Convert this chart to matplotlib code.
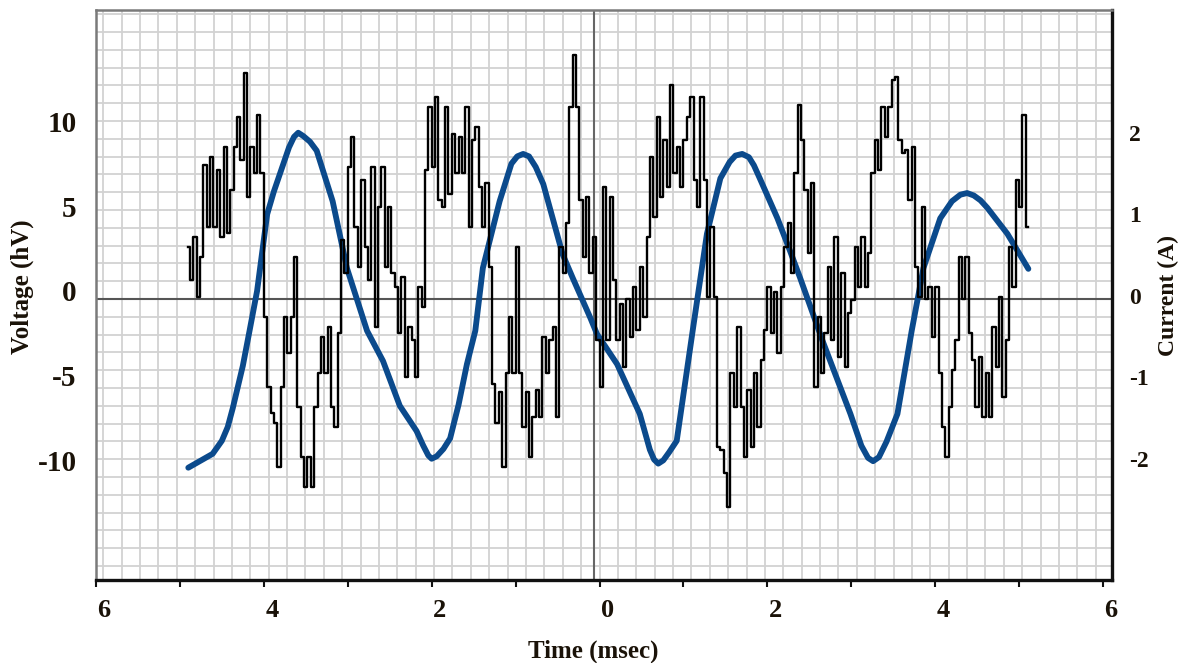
import matplotlib.pyplot as plt
import matplotlib.transforms as mtransforms
import numpy as np

# Voltage trace (hV), one sample every 0.04 ms starting at -4.90 ms
v_t0 = -4.90
v_dt = 0.04
voltage = [
    3.08, 1.12, 3.67, 0.14, 2.49, 7.88, 4.25, 8.37, 4.25, 7.6,
    3.67, 8.96, 3.86, 6.41, 8.96, 10.7, 8.2, 13.27, 6.02, 8.96,
    7.39, 10.82, 7.39, -1.04, -5.16, -6.7, -7.31, -9.86, -5.16, -1.04,
    -3.2, -1.04, 2.49, -6.33, -9.27, -11.04, -9.27, -11.04, -6.33, -4.37,
    -2.22, -4.37, -1.63, -6.33, -7.51, -2.0, 3.47, 1.51, 7.78, 9.55,
    4.25, 1.9, 7.0, 3.08, 1.12, 7.78, -1.63, 5.43, 7.78, 1.9,
    5.43, 1.51, 0.73, -2.0, 1.3, -4.57, -1.63, -2.41, -4.57, 0.73,
    -0.45, 7.6, 11.31, 7.78, 11.9, 5.8, 5.43, 11.31, 6.2, 9.7,
    7.39, 9.55, 7.39, 11.31, 4.25, 9.35, 10.1, 6.6, 4.25, 6.8,
    1.9, -5.0, -7.31, -5.5, -9.86, -4.37, -1.04, -4.37, 3.08, -4.37,
    -7.51, -5.5, -9.27, -6.92, -5.35, -6.92, -2.22, -4.37, -2.41, -1.63,
    -6.92, 3.08, 1.51, 4.45, 11.31, 14.35, 11.31, 5.8, 2.49, 6.02,
    1.51, 3.67, -2.41, -5.16, 6.6, -2.41, 6.02, 1.12, -2.41, -0.3,
    -3.98, 0.0, -2.22, 0.73, -1.8, 1.9, -1.04, 3.67, 8.37, 4.84,
    10.7, 6.02, 9.35, 6.6, 12.59, 7.39, 8.96, 6.6, 9.35, 10.7,
    11.9, 7.0, 5.43, 11.9, 7.0, 0.14, 4.25, 0.14, -8.69, -8.9,
    -10.25, -12.22, -4.37, -6.33, -1.63, -6.33, -9.27, -5.35, -8.69, -4.37,
    -7.51, -3.6, -1.8, 0.73, -2.0, 0.4, -3.2, 0.73, 3.08, 4.45,
    1.51, 7.39, 11.41, 9.35, 6.41, 2.7, 6.8, -5.16, -1.04, -4.37,
    -2.0, 1.9, -2.41, 3.67, -3.4, 1.51, -3.98, -0.85, -0.06, 3.08,
    0.73, 3.67, 0.73, 2.7, 7.39, 9.35, 7.6, 11.31, 9.55, 11.31,
    12.9, 13.08, 9.35, 8.57, 8.76, 5.8, 8.96, 1.9, 0.14, 5.43,
    0.0, 0.73, -2.22, 0.73, -4.37, -7.51, -9.27, -6.33, -4.2, -2.41,
    2.49, 0.0, 2.49, -2.0, -3.6, -6.33, -3.4, -6.92, -4.37, -6.92,
    -1.63, -3.98, 0.14, -5.74, -2.41, 3.08, 0.73, 7.0, 5.43, 10.82,
    4.25,
]
time_v = v_t0 + v_dt * np.arange(len(voltage))

# Current (A)
time_i = [-4.90, -4.61, -4.50, -4.43, -4.37, -4.25, -4.17, -4.08, -3.96, -3.88,
          -3.81, -3.70, -3.64, -3.59, -3.53, -3.45, -3.37, -3.18, -3.01, -2.77,
          -2.58, -2.38, -2.18, -2.10, -2.04, -2.00, -1.94, -1.86, -1.78, -1.68,
          -1.58, -1.48, -1.39, -1.19, -1.05, -0.98, -0.91, -0.84, -0.76, -0.67,
          -0.44, -0.32, -0.11, -0.03, 0.21, 0.48, 0.60, 0.65, 0.70, 0.76,
          0.83, 0.92, 1.11, 1.28, 1.44, 1.55, 1.62, 1.70, 1.78, 1.84,
          1.91, 2.12, 2.27, 2.39, 2.66, 2.99, 3.12, 3.20, 3.26, 3.33,
          3.42, 3.55, 3.72, 3.86, 4.06, 4.20, 4.30, 4.38, 4.46, 4.54,
          4.62, 4.86, 5.11]
current = [-2.07, -1.90, -1.74, -1.57, -1.34, -0.82, -0.39, 0.10, 1.04, 1.32,
           1.53, 1.86, 1.99, 2.04, 2.00, 1.93, 1.82, 1.20, 0.38, -0.39,
           -0.76, -1.31, -1.62, -1.80, -1.92, -1.96, -1.93, -1.84, -1.71, -1.30,
           -0.80, -0.39, 0.38, 1.20, 1.66, 1.75, 1.78, 1.75, 1.62, 1.41,
           0.55, 0.26, -0.23, -0.43, -0.80, -1.41, -1.85, -1.97, -2.02, -1.98,
           -1.88, -1.74, -0.39, 0.80, 1.48, 1.68, 1.76, 1.78, 1.74, 1.64,
           1.48, 0.99, 0.59, 0.26, -0.52, -1.41, -1.80, -1.95, -1.99, -1.94,
           -1.75, -1.41, -0.39, 0.38, 0.99, 1.20, 1.28, 1.30, 1.27, 1.21,
           1.12, 0.80, 0.37]

x_ticks = [-6, -4, -2, 0, 2, 4, 6]
x_tick_labels = ['6', '4', '2', '0', '2', '4', '6']
v_ticks = [10, 5, 0, -5, -10]
i_ticks = [2, 1, 0, -1, -2]

font = 'Liberation Serif'
blue = '#0b4a8c'

fig = plt.figure(figsize=(11.79, 6.63), dpi=100)
ax = fig.add_axes([0.0814, 0.1252, 0.8618, 0.8597])
ax2 = ax.twinx()
ax.set_zorder(2)
ax2.set_zorder(1)
ax.patch.set_visible(False)

ax.set_xlim(-6.0, 6.107)
ax.set_ylim(-16.53, 17.0)
ax2.set_ylim(-3.448, 3.546)

# fine background grid
for gx in np.arange(-27, 28) * 0.219:
    ax2.axvline(gx, color='#d2d2d2', lw=1.3, zorder=0)
for gy in np.arange(-16, 17) * 0.2184:
    ax2.axhline(gy, color='#d2d2d2', lw=1.3, zorder=0)
ax2.axhline(0, color='#555555', lw=1.5, zorder=1)
ax2.axvline(-0.07, color='#666666', lw=1.5, zorder=1)

ax2.plot(time_i, current, color=blue, lw=4.2, solid_capstyle='round',
         solid_joinstyle='round', zorder=3)
ax.plot(time_v, voltage, color='black', lw=1.7, drawstyle='steps-mid', zorder=4)

# spines
for s in ['top', 'left']:
    ax.spines[s].set_color('#7a7a7a')
    ax.spines[s].set_linewidth(1.8)
for s in ['bottom', 'right']:
    ax.spines[s].set_color('#111111')
    ax.spines[s].set_linewidth(2.4)
for s in ax2.spines.values():
    s.set_visible(False)

# x axis
ax.set_xticks(x_ticks)
ax.set_xticklabels(x_tick_labels)
ax.set_xticks(np.arange(-5, 6, 2), minor=True)
ax.tick_params(axis='x', which='both', direction='out', length=5, width=1.5,
               color='#111111', pad=9)
ax.tick_params(axis='x', which='major', labelsize=19)

# y axes
ax.set_yticks(v_ticks)
ax.set_yticklabels([str(v) for v in v_ticks])
ax.tick_params(axis='y', length=0, pad=14, labelsize=21)
ax2.set_yticks(i_ticks)
ax2.set_yticklabels([str(v) for v in i_ticks])
ax2.tick_params(axis='y', length=0, pad=12, labelsize=17)

for lab in ax.get_xticklabels() + ax.get_yticklabels() + ax2.get_yticklabels():
    lab.set_fontfamily(font)
    lab.set_fontweight('bold')
    lab.set_color('#1a1208')

off_x = mtransforms.ScaledTranslation(0.08, 0, fig.dpi_scale_trans)
for lab in ax.get_xticklabels():
    lab.set_transform(lab.get_transform() + off_x)
off_yl = mtransforms.ScaledTranslation(0, 0.08, fig.dpi_scale_trans)
for lab in ax.get_yticklabels():
    lab.set_transform(lab.get_transform() + off_yl)
off_yr = mtransforms.ScaledTranslation(0, 0.03, fig.dpi_scale_trans)
for lab in ax2.get_yticklabels():
    lab.set_transform(lab.get_transform() + off_yr)

lab_kw = dict(fontfamily=font, fontweight='bold', color='#1a1208')
fig.text(22 / 1179, 1 - 287 / 663, 'Voltage (hV)', rotation=90, ha='center',
         va='center', fontsize=18, **lab_kw)
fig.text(1168 / 1179, 1 - 295 / 663, 'Current (A)', rotation=90, ha='center',
         va='center', fontsize=17, **lab_kw)
fig.text(593 / 1179, 1 - 651 / 663, 'Time (msec)', ha='center', va='center',
         fontsize=18, **lab_kw)

fig.savefig('out.png', dpi=100)
